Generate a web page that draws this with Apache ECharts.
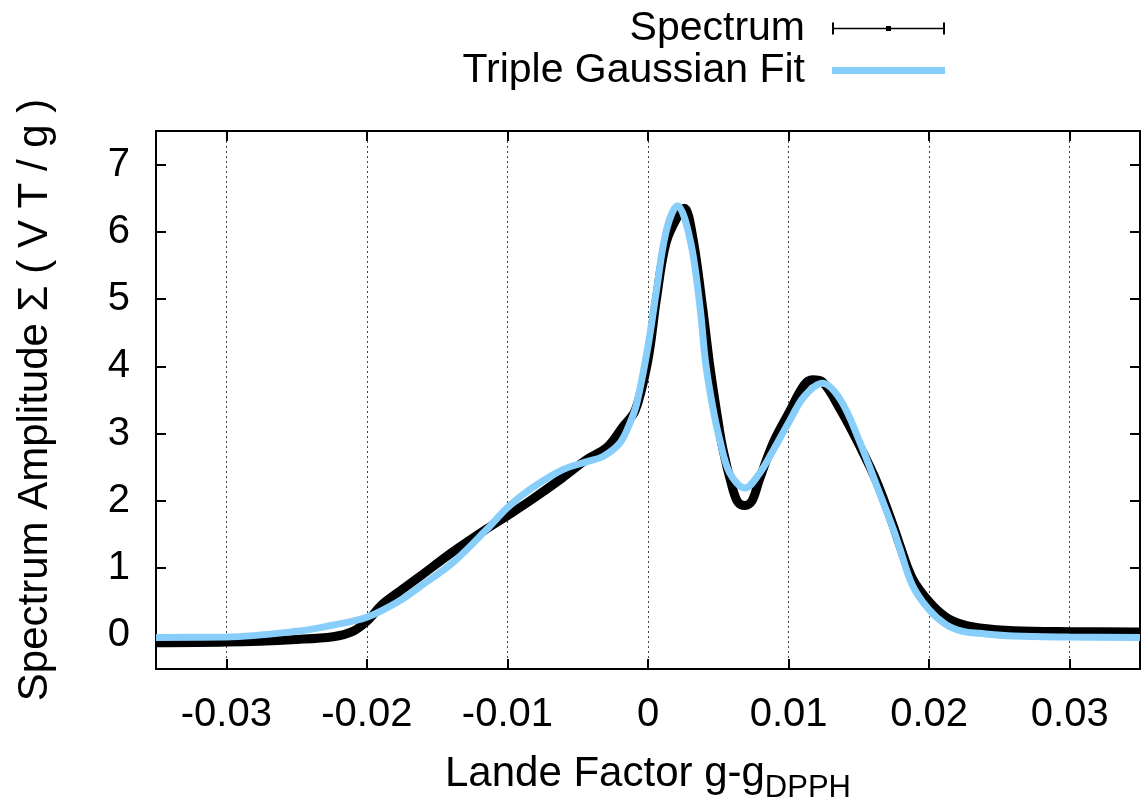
<!DOCTYPE html>
<html lang="en">
<head>
    <meta charset="utf-8">
    <title>Spectrum</title>
    <script src="https://cdn.jsdelivr.net/npm/echarts@6/dist/echarts.min.js"></script>
    <style>
        html, body, #main {
            width: 100%;
            height: 100%;
            margin: 0;
            padding: 0;
            overflow: hidden;
            background-color: #ffffff;
        }
    </style>
</head>
<body>
<div id="main"></div>
<script>
    // measured spectrum (black band)
    var specX = [-0.035, -0.030, -0.025, -0.0224, -0.0210, -0.020, -0.0189, -0.0177, -0.0162, -0.0139,
        -0.0115, -0.010, -0.0084, -0.0061, -0.0044, -0.0029, -0.0018, -0.0009, 0.0, 0.0006,
        0.0013, 0.0023, 0.0026, 0.0032, 0.0039, 0.0044, 0.0049, 0.0053, 0.006, 0.0064,
        0.0069, 0.0074, 0.0079, 0.0089, 0.010, 0.0111, 0.0117, 0.0124, 0.0137, 0.0151,
        0.0163, 0.0175, 0.0179, 0.0188, 0.020, 0.0212, 0.0224, 0.0236, 0.026, 0.030, 0.035];
    var specY = [-0.11, -0.10, -0.06, -0.02, 0.06, 0.21, 0.46, 0.65, 0.88, 1.24,
        1.58, 1.78, 2.0, 2.34, 2.61, 2.8, 3.1, 3.35, 4.1, 5.0,
        5.85, 6.3, 6.35, 5.9, 4.85, 4.0, 3.3, 2.8, 2.2, 1.98,
        1.93, 2.0, 2.3, 2.86, 3.3, 3.72, 3.8, 3.77, 3.35, 2.8,
        2.27, 1.6, 1.35, 0.85, 0.5, 0.27, 0.16, 0.11, 0.07, 0.055, 0.05];

    // triple gaussian fit (blue)
    var fitX = [-0.035, -0.030, -0.025, -0.0225, -0.020, -0.0177, -0.0162, -0.0139, -0.0115, -0.010,
        -0.0084, -0.0061, -0.0044, -0.0032, -0.002, -0.0013, -0.0008, 0.0, 0.0006, 0.0013,
        0.0021, 0.0030, 0.0037, 0.0041, 0.0046, 0.0051, 0.0058, 0.0069, 0.0079, 0.0089,
        0.010, 0.0111, 0.0124, 0.0137, 0.0151, 0.0163, 0.0175, 0.0179, 0.0188, 0.020,
        0.0212, 0.0224, 0.0236, 0.026, 0.030, 0.035];
    var fitY = [-0.03, -0.025, 0.06, 0.15, 0.27, 0.51, 0.73, 1.08, 1.57, 1.9,
        2.17, 2.46, 2.58, 2.66, 2.86, 3.15, 3.45, 4.3, 5.13, 6.02,
        6.39, 5.88, 4.88, 4.05, 3.4, 2.91, 2.42, 2.19, 2.4, 2.75,
        3.16, 3.55, 3.75, 3.5, 2.86, 2.21, 1.55, 1.3, 0.75, 0.38,
        0.16, 0.06, 0.03, -0.01, -0.025, -0.03];

    var xTicks = [-0.03, -0.02, -0.01, 0, 0.01, 0.02, 0.03];
    var yTicks = [0, 1, 2, 3, 4, 5, 6, 7];

    function pairs(xs, ys) {
        var out = [];
        for (var i = 0; i < xs.length; i++) {
            out.push([xs[i], ys[i]]);
        }
        return out;
    }

    var font = 'Liberation Sans, Arial, Helvetica, sans-serif';
    var frame = {color: '#000', width: 2};

    var myChart = echarts.init(document.getElementById('main'));
    var option = {
        animation: false,
        textStyle: {fontFamily: font, color: '#000'},
        grid: {left: 156, right: 6, top: 131, bottom: 130, outerBoundsMode: 'none', containLabel: false},
        legend: [
            {
                data: ['Spectrum'],
                right: 196,
                top: 3,
                align: 'right',
                itemWidth: 113,
                itemHeight: 12,
                icon: 'path://M0,0h2v12h-2z M0,5.2h113v1.6h-113z M111,0h2v12h-2z M54,3.5h5v5h-5z',
                textStyle: {fontSize: 41, color: '#000', fontFamily: font, padding: [0, 22, 0, 0]}
            },
            {
                data: ['Triple Gaussian Fit'],
                right: 196,
                top: 45,
                align: 'right',
                itemWidth: 113,
                itemHeight: 7,
                icon: 'rect',
                textStyle: {fontSize: 41, color: '#000', fontFamily: font, padding: [0, 22, 0, 0]}
            }
        ],
        xAxis: [
            {
                type: 'value',
                min: -0.035,
                max: 0.035,
                name: '{m|Lande Factor g-g}{s|DPPH}',
                nameLocation: 'middle',
                nameGap: 84,
                nameTextStyle: {
                    rich: {
                        m: {fontSize: 42, lineHeight: 42, verticalAlign: 'top', fontFamily: font, color: '#000'},
                        s: {fontSize: 31, lineHeight: 31, verticalAlign: 'top', padding: [20, 0, 0, 0], fontFamily: font, color: '#000'}
                    }
                },
                axisLine: {onZero: false, lineStyle: frame},
                axisTick: {inside: true, length: 10, customValues: xTicks, lineStyle: frame},
                axisLabel: {customValues: xTicks, fontSize: 40, color: '#000', margin: 26,
                    formatter: function (v) { return String(v); }},
                splitLine: {show: true, lineStyle: {type: [2, 3], color: '#444', width: 1}}
            },
            {
                type: 'value',
                position: 'top',
                min: -0.035,
                max: 0.035,
                axisLine: {onZero: false, lineStyle: frame},
                axisTick: {inside: true, length: 10, customValues: xTicks, lineStyle: frame},
                axisLabel: {show: false},
                splitLine: {show: false}
            }
        ],
        yAxis: [
            {
                type: 'value',
                min: -0.5,
                max: 7.5,
                name: 'Spectrum Amplitude \u03A3 ( V T / g )',
                nameLocation: 'middle',
                nameGap: 100,
                nameTextStyle: {fontSize: 42, color: '#000', fontFamily: font},
                axisLine: {onZero: false, lineStyle: frame},
                axisTick: {inside: true, length: 10, customValues: yTicks, lineStyle: frame},
                axisLabel: {customValues: yTicks, fontSize: 40, color: '#000', margin: 26},
                splitLine: {show: false}
            },
            {
                type: 'value',
                position: 'right',
                min: -0.5,
                max: 7.5,
                axisLine: {onZero: false, lineStyle: frame},
                axisTick: {inside: true, length: 10, customValues: yTicks, lineStyle: frame},
                axisLabel: {show: false},
                splitLine: {show: false}
            }
        ],
        series: [
            {
                name: 'Spectrum',
                type: 'line',
                xAxisIndex: 0,
                yAxisIndex: 0,
                data: pairs(specX, specY),
                smooth: 0.35,
                showSymbol: false,
                color: '#000',
                lineStyle: {color: '#000', width: 9}
            },
            {
                name: 'Triple Gaussian Fit',
                type: 'line',
                xAxisIndex: 0,
                yAxisIndex: 0,
                data: pairs(fitX, fitY),
                smooth: 0.35,
                showSymbol: false,
                color: '#87cefa',
                lineStyle: {color: '#87cefa', width: 7}
            }
        ]
    };
    myChart.setOption(option);
</script>
</body>
</html>
